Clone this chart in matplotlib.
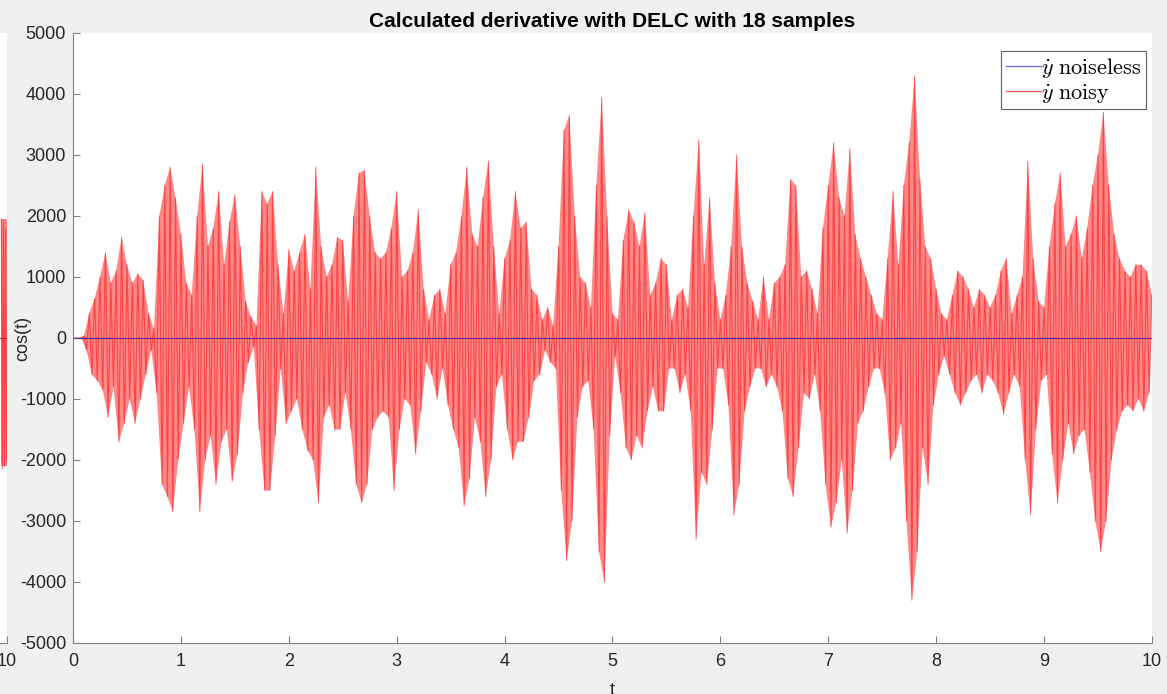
import numpy as np
import matplotlib.pyplot as plt

# upper peaks of the noisy derivative, read every 0.05 s from t=0 to t=10
t_up = np.arange(201) * 0.05
y_up = [0, 0, 30, 400, 650, 1000, 1400, 900, 1100, 1650,
        1200, 900, 1050, 950, 400, 150, 2000, 2500, 2800, 2300,
        1700, 900, 700, 2000, 2850, 1500, 1800, 2400, 1200, 1900,
        2350, 1500, 600, 350, 200, 2400, 2200, 2400, 1200, 400,
        1450, 1100, 1400, 1700, 800, 2800, 1500, 1000, 1200, 1650,
        1600, 600, 2000, 2700, 2750, 2000, 1400, 1300, 1400, 1800,
        2400, 1000, 1100, 1400, 2100, 800, 300, 700, 800, 400,
        1200, 1400, 2000, 2800, 1700, 1500, 2300, 2900, 1500, 400,
        1300, 1600, 2400, 1800, 1900, 800, 700, 300, 500, 200,
        1500, 3400, 3650, 2000, 1000, 900, 500, 2500, 3950, 2000,
        400, 300, 1600, 2100, 1900, 1500, 2050, 700, 900, 1300,
        1200, 300, 700, 800, 500, 2000, 3250, 1200, 2300, 900,
        300, 700, 1500, 3000, 1500, 900, 600, 300, 1000, 300,
        900, 1000, 1200, 2600, 2500, 1000, 1100, 800, 400, 1800,
        2500, 3200, 2300, 2000, 3100, 1700, 1300, 1000, 700, 400,
        300, 1300, 2400, 1200, 2500, 3200, 4300, 2600, 1500, 1300,
        800, 400, 300, 700, 1100, 1000, 800, 500, 800, 700,
        500, 700, 1100, 1300, 400, 700, 1000, 2900, 1300, 600,
        500, 1500, 2200, 2700, 1500, 1700, 2000, 1300, 1800, 2500,
        3000, 3700, 2500, 1700, 1300, 1100, 1000, 1200, 1200, 1100,
        700]

# lower peaks (magnitudes), read halfway between the upper ones
t_lo = np.arange(200) * 0.05 + 0.025
y_lo = [0, 0, 200, 600, 700, 850, 1300, 800, 1700, 1400,
        1000, 1400, 1000, 600, 200, 900, 2400, 2600, 2850, 2000,
        1400, 800, 1500, 2850, 2000, 1600, 2400, 1700, 1500, 2350,
        1900, 900, 400, 150, 1500, 2500, 2500, 1600, 500, 1400,
        1200, 1000, 1500, 1850, 2000, 2700, 1300, 1100, 1500, 1500,
        900, 1500, 2400, 2700, 2400, 1500, 1300, 1200, 1300, 2500,
        1500, 1000, 1100, 1900, 1200, 400, 600, 1000, 500, 1100,
        1500, 1800, 2750, 2300, 1300, 1700, 2600, 2000, 800, 600,
        1500, 2000, 1700, 1700, 1300, 700, 600, 200, 400, 500,
        2500, 3650, 3000, 1300, 800, 700, 1500, 3500, 4000, 1600,
        300, 900, 1800, 2000, 1600, 1800, 1200, 800, 1200, 1200,
        500, 500, 900, 600, 1200, 3300, 2200, 2400, 1500, 500,
        500, 1100, 2900, 2400, 1200, 800, 500, 500, 800, 600,
        800, 1200, 2300, 2600, 1800, 900, 1000, 600, 1200, 2400,
        3100, 2700, 2000, 3200, 2500, 1400, 1200, 800, 500, 500,
        900, 2000, 1800, 1400, 3000, 4300, 3500, 1800, 2400, 1100,
        600, 300, 600, 900, 1100, 900, 700, 600, 900, 600,
        700, 900, 1250, 900, 600, 800, 2000, 2900, 1500, 700,
        600, 1900, 2700, 2000, 1400, 1900, 1600, 1500, 2200, 3000,
        3500, 3000, 2000, 1500, 1200, 1100, 1200, 1000, 1200, 900]

# noiseless derivative is ~0 on this scale
t_clean = [0, 10]
y_clean = [0, 0]

# tail of the neighbouring figure that is cut at the left edge
t_left = [9.85, 9.88, 9.91, 9.94, 9.97, 10.0]
y_left = [1950, -2150, 1900, -2100, 1800, -2000]

# interleave the peaks into one trace
t_noisy = np.empty(len(t_up) + len(t_lo))
y_noisy = np.empty(len(t_up) + len(t_lo))
t_noisy[0::2] = t_up
t_noisy[1::2] = t_lo
y_noisy[0::2] = y_up
y_noisy[1::2] = -np.array(y_lo)

# outline of the band: upper peaks forward, lower peaks back
band_t = np.concatenate([t_up, t_lo[::-1]])
band_y = np.concatenate([y_up, -np.array(y_lo)[::-1]])

bg = '#f0f0f0'
fg = '#262626'
plt.rcParams['font.family'] = ['Liberation Sans', 'DejaVu Sans']
plt.rcParams['mathtext.fontset'] = 'cm'
plt.rcParams['axes.unicode_minus'] = False

fig = plt.figure(figsize=(11.67, 6.94), dpi=100, facecolor=bg)

# partial neighbour axes
axl = fig.add_axes([-0.3, 0.0735, 0.3057, 0.879])
axl.fill_between(t_left, -2100, 1950, color='#ff5a5a', alpha=0.75, lw=0)
axl.plot(t_left, y_left, color='red', lw=0.8, alpha=0.5)
axl.axhline(0, color='#c03040', lw=0.8)
axl.set_xlim(0, 10)
axl.set_ylim(-5000, 5000)
axl.set_xticks([10])
axl.set_yticks([])
axl.tick_params(axis='x', direction='in', length=5, colors='#808080',
                labelcolor=fg, labelsize=13, pad=7.5)
for s in ['top', 'right', 'left']:
    axl.spines[s].set_visible(False)
axl.spines['bottom'].set_color('#808080')

ax = fig.add_axes([0.0626, 0.0735, 0.9245, 0.879])
ax.plot(t_clean, y_clean, color='#3030c0', lw=0.8, label=r'$\dot{y}\ \mathrm{noiseless}$')
ax.fill(band_t, band_y, color='#ff5050', alpha=0.68, lw=0)
ax.plot(t_noisy, y_noisy, color='red', lw=0.8, alpha=0.5, label=r'$\dot{y}\ \mathrm{noisy}$')

ax.set_xlim(0, 10)
ax.set_ylim(-5000, 5000)
ax.set_xticks(range(0, 11))
ax.set_yticks(range(-5000, 5001, 1000))
ax.tick_params(direction='in', length=5, colors='#808080', labelcolor=fg,
               labelsize=13, pad=5)
ax.tick_params(axis='x', pad=7.5)
for s in ['top', 'right']:
    ax.spines[s].set_visible(False)
for s in ['left', 'bottom']:
    ax.spines[s].set_color('#808080')

ax.set_title('Calculated derivative with DELC with 18 samples',
             fontsize=15, fontweight='bold', color='black', pad=4)
ax.set_xlabel('t', fontsize=13, color=fg)
ax.xaxis.set_label_coords(0.5, -0.064)
ax.set_ylabel('cos(t)', fontsize=13, color=fg)
ax.yaxis.set_label_coords(-0.039, 0.5)

leg = ax.legend(loc='upper right', bbox_to_anchor=(0.9945, 0.97), fontsize=16,
                handlelength=1.6, handletextpad=0.0, borderpad=0.2,
                labelspacing=0.1, fancybox=False, framealpha=1, borderaxespad=0)
leg.get_frame().set_edgecolor('#606060')
leg.get_frame().set_linewidth(0.8)
leg_lines = leg.get_lines()
leg_lines[0].set_color('#7070e0')
leg_lines[1].set_color('#ff6060')
for h in leg_lines:
    h.set_linewidth(1.0)
    h.set_alpha(1)

fig.savefig('out.png', dpi=100, facecolor=bg)
